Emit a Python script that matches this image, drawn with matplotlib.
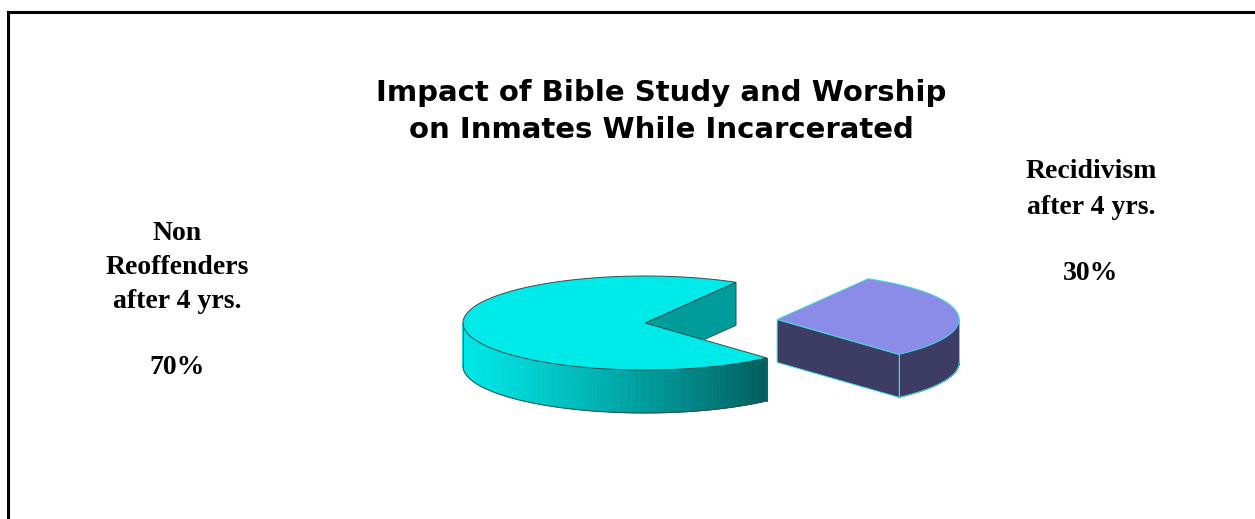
import numpy as np
import matplotlib
matplotlib.use("Agg")
import matplotlib.pyplot as plt
from matplotlib.patches import Polygon
from matplotlib.lines import Line2D

# Chart data
categories = ["Non\nReoffenders\nafter 4 yrs.", "Recidivism\nafter 4 yrs."]
shares = [70, 30]
title = "Impact of Bible Study and Worship\non Inmates While Incarcerated"

# Styling
top_colors = ["#00EAEA", "#8B8BE8"]
cut_colors = ["#009C9C", "#3C3C64"]
wall_colors = [None, "#3C3C64"]
edge_colors = ["#2F4F4F", "#40E0E0"]

W, H = 1255, 519
fig = plt.figure(figsize=(W / 100, H / 100), dpi=100)
ax = fig.add_axes([0, 0, 1, 1])
ax.set_xlim(0, W)
ax.set_ylim(H, 0)
ax.axis("off")

# Pie geometry (pixel space of the axes)
cx, cy = 645.0, 323.0
rx, ry = 182.0, 47.0
depth = 43.0
explode = [0.0, 0.73]
recid_start = -48.0  # degrees, counter-clockwise


def pt(t_deg, off=(0.0, 0.0), z=0.0):
    t = np.radians(t_deg)
    return (cx + off[0] + rx * np.cos(t), cy + off[1] - ry * np.sin(t) + z)


def arc(t0, t1, off, z=0.0, n=200):
    ts = np.linspace(t0, t1, n)
    return [pt(t, off, z) for t in ts]


# Slice angle ranges derived from the shares
total = float(sum(shares))
span_r = 360.0 * shares[1] / total
span_n = 360.0 * shares[0] / total
ranges = [
    (recid_start + span_r, recid_start + span_r + span_n),  # Non reoffenders
    (recid_start, recid_start + span_r),                   # Recidivism
]


def offset(i):
    t0, t1 = ranges[i]
    mid = np.radians((t0 + t1) / 2)
    e = explode[i]
    return (rx * e * np.cos(mid), -ry * e * np.sin(mid))


def wall_shade(t_deg):
    return 0.6 + 0.38 * np.cos(np.radians(t_deg - 190.0))


def draw_wall(i, t0, t1, off, nstrip=260):
    ts = np.linspace(t0, t1, nstrip + 1)
    base = np.array(matplotlib.colors.to_rgb(top_colors[i]))
    for a, b in zip(ts[:-1], ts[1:]):
        if wall_colors[i] is None:
            c = np.clip(base * wall_shade((a + b) / 2), 0, 1)
        else:
            c = wall_colors[i]
        poly = [pt(a, off), pt(b, off), pt(b, off, depth), pt(a, off, depth)]
        ax.add_patch(Polygon(poly, closed=True, facecolor=c, edgecolor=c,
                             lw=0.6, zorder=2))
    bottom = arc(t0, t1, off, depth)
    ax.plot([p[0] for p in bottom], [p[1] for p in bottom],
            color=edge_colors[i], lw=0.7, zorder=3)
    for t in (t0, t1):
        p1, p2 = pt(t, off), pt(t, off, depth)
        ax.plot([p1[0], p2[0]], [p1[1], p2[1]], color=edge_colors[i],
                lw=0.7, zorder=3)


def draw_cut(i, t, off):
    c0 = (cx + off[0], cy + off[1])
    c1 = (c0[0], c0[1] + depth)
    poly = [c0, pt(t, off), pt(t, off, depth), c1]
    ax.add_patch(Polygon(poly, closed=True, facecolor=cut_colors[i],
                         edgecolor=edge_colors[i], lw=0.7, zorder=2))


def draw_top(i, off):
    t0, t1 = ranges[i]
    c0 = (cx + off[0], cy + off[1])
    poly = [c0] + arc(t0, t1, off)
    ax.add_patch(Polygon(poly, closed=True, facecolor=top_colors[i],
                         edgecolor=edge_colors[i], lw=0.7, zorder=4))


# Non reoffenders slice (visible cut face at its start, front wall)
off0 = offset(0)
t0, t1 = ranges[0]
draw_cut(0, t0, off0)
draw_wall(0, max(t0, 180.0), min(t1, 360.0), off0)
draw_top(0, off0)

# Recidivism slice (exploded)
off1 = offset(1)
r0, r1 = ranges[1]
draw_cut(1, r0, off1)
draw_wall(1, r0, min(r1, 0.0), off1)
draw_top(1, off1)

# Title
title_font = dict(fontsize=21, fontweight="bold", family="DejaVu Sans",
                  ha="center", va="center")
ax.text(661, 93, title.split("\n")[0], **title_font)
ax.text(661, 130, title.split("\n")[1], **title_font)

# Category labels
lab_font = dict(fontsize=20, fontweight="bold", family="Liberation Serif",
                ha="center", va="center")
for k, line in enumerate(categories[0].split("\n")):
    ax.text(177, 233 + 34.5 * k, line, **lab_font)
ax.text(177, 368, f"{shares[0]}%", **lab_font)

for k, line in enumerate(categories[1].split("\n")):
    ax.text(1091, 172 + 36 * k, line, **lab_font)
ax.text(1091, 273, f"{shares[1]}%", **lab_font)

# Frame lines
fig.add_artist(Line2D([8 / W, 1.0], [1 - 12 / H, 1 - 12 / H],
                      transform=fig.transFigure, color="black", lw=2.2))
fig.add_artist(Line2D([8 / W, 8 / W], [1 - 12 / H, 0.0],
                      transform=fig.transFigure, color="black", lw=2.2))

fig.savefig("out.png", dpi=100, facecolor="white")
